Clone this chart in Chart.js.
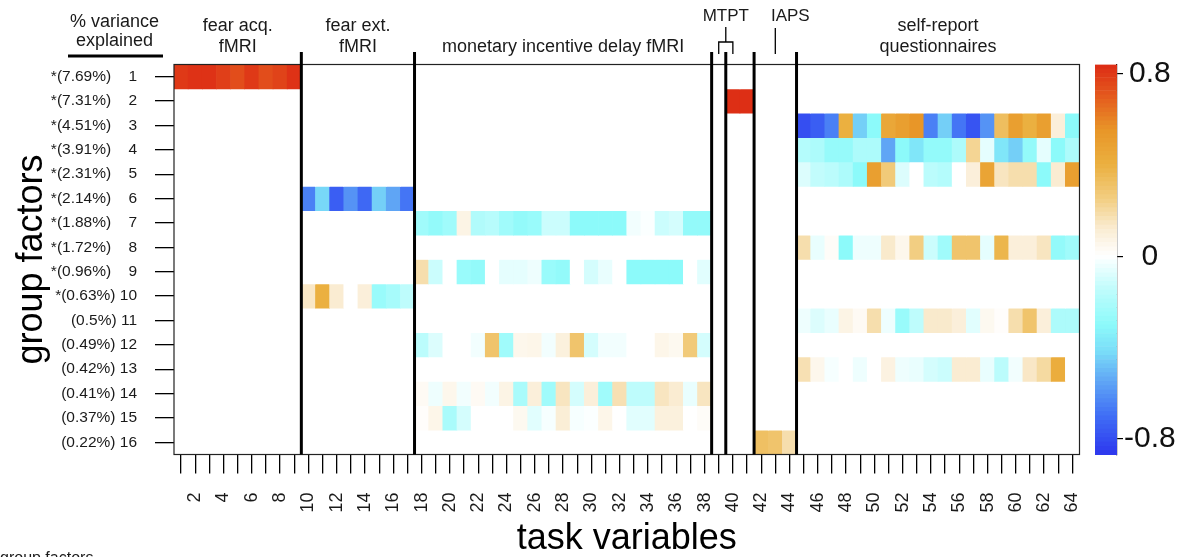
<!DOCTYPE html>
<html>
<head>
<meta charset="utf-8">
<script src="https://cdn.jsdelivr.net/npm/chart.js@4.4.1/dist/chart.umd.min.js"></script>
<style>
  html, body { margin: 0; padding: 0; background: #fff; }
  #wrap { position: relative; width: 1181px; height: 557px; overflow: hidden; }
  #main { position: absolute; left: 0; top: 0; }
  #bar { position: absolute; left: 1080px; top: 0; }
</style>
</head>
<body>
<div id="wrap">
  <canvas id="main" width="1181" height="557"></canvas>
  <canvas id="bar" width="101" height="557"></canvas>
</div>
<script>
// task variables (x) and group factors (y)
const taskVars = [1,2,3,4,5,6,7,8,9,10,11,12,13,14,15,16,17,18,19,20,21,22,23,24,25,26,27,28,29,30,31,32,
  33,34,35,36,37,38,39,40,41,42,43,44,45,46,47,48,49,50,51,52,53,54,55,56,57,58,59,60,61,62,63,64];
const factors = [1,2,3,4,5,6,7,8,9,10,11,12,13,14,15,16];
const varExplained = ['*(7.69%)','*(7.31%)','*(4.51%)','*(3.91%)','*(2.31%)','*(2.14%)','*(1.88%)','*(1.72%)',
  '*(0.96%)','*(0.63%)','(0.5%)','(0.49%)','(0.42%)','(0.41%)','(0.37%)','(0.22%)'];

// loadings per factor; blocks: fear acq (9) | fear ext (8) | MID (21) | MTPT (3) | IAPS (3) | self-report (20)
const f1 = [0.80,0.82,0.82,0.78,0.74,0.80,0.74,0.77,0.82,
  0,0,0,0,0,0,0,0,
  0,0,0,0,0,0,0,0,0,0,0,0,0,0,0,0,0,0,0,0,0,
  0,0,0, 0,0,0,
  0,0,0,0,0,0,0,0,0,0,0,0,0,0,0,0,0,0,0,0];
const f2 = [0,0,0,0,0,0,0,0,0,
  0,0,0,0,0,0,0,0,
  0,0,0,0,0,0,0,0,0,0,0,0,0,0,0,0,0,0,0,0,0,
  0,0.83,0.83, 0,0,0,
  0,0,0,0,0,0,0,0,0,0,0,0,0,0,0,0,0,0,0,0];
const f3 = [0,0,0,0,0,0,0,0,0,
  0,0,0,0,0,0,0,0,
  0,0,0,0,0,0,0,0,0,0,0,0,0,0,0,0,0,0,0,0,0,
  0,0,0, 0,0,0,
  -0.80,-0.75,-0.65,0.40,-0.45,-0.30,0.45,0.50,0.55,-0.65,-0.45,-0.68,-0.78,-0.60,0.33,0.50,0.40,0.50,0.10,-0.30];
const f4 = [0,0,0,0,0,0,0,0,0,
  0,0,0,0,0,0,0,0,
  0,0,0,0,0,0,0,0,0,0,0,0,0,0,0,0,0,0,0,0,0,
  0,0,0, 0,0,0,
  -0.18,-0.20,-0.27,-0.27,-0.20,-0.20,-0.55,-0.30,-0.38,-0.28,-0.28,-0.20,0.22,-0.06,-0.38,-0.45,-0.28,-0.06,-0.30,-0.20];
const f5 = [0,0,0,0,0,0,0,0,0,
  0,0,0,0,0,0,0,0,
  0,0,0,0,0,0,0,0,0,0,0,0,0,0,0,0,0,0,0,0,0,
  0,0,0, 0,0,0,
  -0.08,-0.14,-0.16,-0.20,-0.30,0.50,0.27,-0.08,0,-0.16,-0.18,0,0.10,0.47,0.15,0.18,0.18,-0.30,0.12,0.50];
const f6 = [0,0,0,0,0,0,0,0,0,
  -0.65,-0.43,-0.75,-0.60,-0.72,-0.45,-0.55,-0.68,
  0,0,0,0,0,0,0,0,0,0,0,0,0,0,0,0,0,0,0,0,0,
  0,0,0, 0,0,0,
  0,0,0,0,0,0,0,0,0,0,0,0,0,0,0,0,0,0,0,0];
const f7 = [0,0,0,0,0,0,0,0,0,
  0,0,0,0,0,0,0,0,
  -0.24,-0.28,-0.24,0.07,-0.19,-0.17,-0.24,-0.28,-0.26,-0.12,-0.12,-0.30,-0.30,-0.30,-0.30,-0.03,-0.01,-0.12,-0.10,-0.28,-0.28,
  0,0,0, 0,0,0,
  0,0,0,0,0,0,0,0,0,0,0,0,0,0,0,0,0,0,0,0];
const f8 = [0,0,0,0,0,0,0,0,0,
  0,0,0,0,0,0,0,0,
  0,0,0,0,0,0,0,0,0,0,0,0,0,0,0,0,0,0,0,0,0,
  0,0,0, 0,0,0,
  0.18,-0.05,0.02,-0.30,-0.04,-0.04,0.13,0.05,0.25,-0.12,-0.24,0.30,0.30,-0.06,0.37,0.10,0.10,0.15,-0.28,-0.24];
const f9 = [0,0,0,0,0,0,0,0,0,
  0,0,0,0,0,0,0,0,
  0.18,-0.12,0,-0.26,-0.28,0,-0.06,-0.06,-0.04,-0.26,-0.28,0,-0.10,-0.05,0,-0.30,-0.30,-0.30,-0.30,0,-0.07,
  0,0,0, 0,0,0,
  0,0,0,0,0,0,0,0,0,0,0,0,0,0,0,0,0,0,0,0];
const f10 = [0,0,0,0,0,0,0,0,0,
  0.14,0.40,0.12,0,0.10,-0.26,-0.22,-0.15,
  0,0,0,0,0,0,0,0,0,0,0,0,0,0,0,0,0,0,0,0,0,
  0,0,0, 0,0,0,
  0,0,0,0,0,0,0,0,0,0,0,0,0,0,0,0,0,0,0,0];
const f11 = [0,0,0,0,0,0,0,0,0,
  0,0,0,0,0,0,0,0,
  0,0,0,0,0,0,0,0,0,0,0,0,0,0,0,0,0,0,0,0,0,
  0,0,0, 0,0,0,
  -0.04,-0.08,-0.05,0.07,0.03,0.18,-0.04,-0.26,-0.15,0.13,0.13,0.10,-0.07,0.04,0.01,0.18,0.30,0.10,-0.20,-0.20];
const f12 = [0,0,0,0,0,0,0,0,0,
  0,0,0,0,0,0,0,0,
  -0.16,-0.08,0,0,-0.03,0.30,-0.24,0.05,0.06,-0.03,0.09,0.30,-0.10,-0.03,-0.03,0,0,0.06,0.04,0.27,-0.10,
  0,0,0, 0,0,0,
  0,0,0,0,0,0,0,0,0,0,0,0,0,0,0,0,0,0,0,0];
const f13 = [0,0,0,0,0,0,0,0,0,
  0,0,0,0,0,0,0,0,
  0,0,0,0,0,0,0,0,0,0,0,0,0,0,0,0,0,0,0,0,0,
  0,0,0, 0,0,0,
  0.17,0.05,-0.02,0,-0.04,0,0.08,-0.04,-0.05,-0.10,-0.12,0.12,0.12,-0.05,-0.16,-0.03,0.14,0.20,0.42,0];
const f14 = [0,0,0,0,0,0,0,0,0,
  0,0,0,0,0,0,0,0,
  0.03,-0.04,0.05,-0.03,0.03,-0.03,0.07,-0.21,0.10,-0.24,0.15,-0.10,0.10,-0.24,0.17,-0.15,-0.15,0.15,0.12,-0.05,0.15,
  0,0,0, 0,0,0,
  0,0,0,0,0,0,0,0,0,0,0,0,0,0,0,0,0,0,0,0];
const f15 = [0,0,0,0,0,0,0,0,0,
  0,0,0,0,0,0,0,0,
  0.01,0.06,-0.21,-0.10,0,0,0,0.04,-0.07,-0.02,0.11,-0.02,-0.01,0.06,0,-0.07,-0.07,0.09,0.09,0,0.02,
  0,0,0, 0,0,0,
  0,0,0,0,0,0,0,0,0,0,0,0,0,0,0,0,0,0,0,0];
const f16 = [0,0,0,0,0,0,0,0,0,
  0,0,0,0,0,0,0,0,
  0,0,0,0,0,0,0,0,0,0,0,0,0,0,0,0,0,0,0,0,0,
  0,0,0, 0.32,0.30,0.18,
  0,0,0,0,0,0,0,0,0,0,0,0,0,0,0,0,0,0,0,0];
const loadings = [f1,f2,f3,f4,f5,f6,f7,f8,f9,f10,f11,f12,f13,f14,f15,f16];

// task blocks: last task variable of each block, and the header text
const blockEnds = [9, 17, 38, 39, 41, 44];
const headers = [
  { from: 1, to: 9, lines: ['fear acq.', 'fMRI'] },
  { from: 10, to: 17, lines: ['fear ext.', 'fMRI'] },
  { from: 18, to: 38, lines: ['monetary incentive delay fMRI'] },
  { from: 45, to: 64, lines: ['self-report', 'questionnaires'] }
];
const colorbarTicks = [-0.8, 0, 0.8];

const FONT = "'Liberation Sans', Arial, Helvetica, sans-serif";
Chart.defaults.font.family = FONT;
Chart.defaults.color = '#1a1a1a';

// blue - cyan - white - tan - orange - red
const stops = [
  [-0.87, [45, 55, 238]],
  [-0.70, [64, 110, 245]],
  [-0.55, [95, 165, 245]],
  [-0.42, [122, 220, 248]],
  [-0.30, [140, 250, 250]],
  [-0.15, [190, 252, 252]],
  [0.00, [255, 255, 255]],
  [0.12, [250, 236, 210]],
  [0.25, [242, 206, 130]],
  [0.40, [235, 176, 64]],
  [0.55, [232, 150, 40]],
  [0.70, [228, 90, 30]],
  [0.85, [220, 40, 20]]
];
function colorFor(v) {
  v = Math.max(stops[0][0], Math.min(stops[stops.length - 1][0], v));
  for (let i = 1; i < stops.length; i++) {
    const [v1, c1] = stops[i];
    const [v0, c0] = stops[i - 1];
    if (v <= v1) {
      const t = (v - v0) / (v1 - v0);
      const c = c0.map((a, k) => Math.round(a + (c1[k] - a) * t));
      return `rgb(${c[0]},${c[1]},${c[2]})`;
    }
  }
}

function rowLabel(f) {
  const i = factors.indexOf(f);
  if (i < 0) return '';
  return varExplained[i] + (f < 10 ? '    ' : ' ') + f;
}

const decor = {
  id: 'decor',
  afterDraw(chart) {
    const { ctx, chartArea: a, scales: { x } } = chart;
    const colX = c => x.getPixelForValue(c - 1);
    const edgeX = c => (colX(c) + colX(c + 1)) / 2;
    ctx.save();

    // frame
    ctx.strokeStyle = '#222';
    ctx.lineWidth = 1.2;
    ctx.strokeRect(a.left, a.top, a.right - a.left, a.bottom - a.top);

    // block separators
    ctx.strokeStyle = '#000';
    ctx.lineWidth = 3;
    blockEnds.forEach(c => {
      ctx.beginPath();
      ctx.moveTo(edgeX(c), 52);
      ctx.lineTo(edgeX(c), a.bottom);
      ctx.stroke();
    });

    // block headers
    ctx.fillStyle = '#1a1a1a';
    ctx.textAlign = 'center';
    ctx.textBaseline = 'alphabetic';
    ctx.font = '18px ' + FONT;
    headers.forEach(h => {
      const cx = (colX(h.from) + colX(h.to)) / 2;
      const base = h.lines.length === 2 ? [31, 52] : [52];
      h.lines.forEach((t, i) => ctx.fillText(t, cx, base[i]));
    });

    ctx.fillText('% variance', 114.5, 27);
    ctx.fillText('explained', 114.5, 46);
    ctx.lineWidth = 3;
    ctx.beginPath();
    ctx.moveTo(68, 56);
    ctx.lineTo(163, 56);
    ctx.stroke();

    // MTPT bracket
    ctx.lineWidth = 1.3;
    const l = colX(39), r = colX(40), m = (l + r) / 2;
    ctx.beginPath();
    ctx.moveTo(m, 27); ctx.lineTo(m, 42);
    ctx.moveTo(l, 54); ctx.lineTo(l, 42); ctx.lineTo(r, 42); ctx.lineTo(r, 54);
    ctx.stroke();
    ctx.font = '17px ' + FONT;
    ctx.fillText('MTPT', m, 21);

    // IAPS pointer
    const ia = colX(43);
    ctx.beginPath();
    ctx.moveTo(ia, 28); ctx.lineTo(ia, 54);
    ctx.stroke();
    ctx.fillText('IAPS', ia + 15, 21);

    // clipped caption at the bottom
    ctx.textAlign = 'left';
    ctx.textBaseline = 'top';
    ctx.font = '16px ' + FONT;
    ctx.fillText('group factors', 0, 551);
    ctx.restore();
  }
};

const datasets = loadings.map((vals, r) => ({
  label: rowLabel(factors[r]),
  data: vals.map(() => [factors[r] - 0.5, factors[r] + 0.5]),
  backgroundColor: vals.map(colorFor),
  borderWidth: 0,
  barPercentage: 1,
  categoryPercentage: 1,
  grouped: false
}));

new Chart(document.getElementById('main'), {
  type: 'bar',
  data: { labels: taskVars.map(String), datasets },
  options: {
    responsive: false,
    animation: false,
    layout: { padding: { left: 0, top: 64.5, right: 101.5, bottom: 0 } },
    plugins: {
      legend: { display: false },
      tooltip: {
        callbacks: {
          label: c => `factor ${factors[c.datasetIndex]}: ${loadings[c.datasetIndex][c.dataIndex]}`
        }
      }
    },
    scales: {
      x: {
        type: 'category',
        offset: true,
        grid: { offset: false, drawOnChartArea: false, tickLength: 19, color: '#000', lineWidth: 1.3 },
        border: { display: false },
        ticks: {
          autoSkip: false, minRotation: 90, maxRotation: 90, padding: 19,
          font: { size: 18 }, color: '#1a1a1a',
          callback: (v, i) => (taskVars[i] % 2 === 0 ? String(taskVars[i]) : '')
        },
        title: { display: true, text: 'task variables', font: { size: 36, lineHeight: 1 }, color: '#000', padding: { top: 0, bottom: 0 } },
        afterFit: s => { s.height = 102.5; }
      },
      y: {
        type: 'linear',
        reverse: true,
        min: 0.5,
        max: 16.5,
        afterBuildTicks: s => { s.ticks = factors.map(v => ({ value: v })); },
        grid: { drawOnChartArea: false, tickLength: 19, color: '#000', lineWidth: 1.3 },
        border: { display: false },
        ticks: { autoSkip: false, padding: 18, font: { size: 15.5 }, color: '#1a1a1a', callback: v => rowLabel(v) },
        title: { display: true, text: 'group factors', font: { size: 36, lineHeight: 1 }, color: '#000', padding: { top: 14, bottom: 0 } },
        afterFit: s => { s.width = 174; }
      }
    }
  },
  plugins: [decor]
});

// colour key
const keyMin = -0.87, keyMax = 0.84, keySteps = 90;
const keyBands = Array.from({ length: keySteps }, (_, i) => {
  const lo = keyMin + (keyMax - keyMin) * i / keySteps;
  const hi = keyMin + (keyMax - keyMin) * (i + 1) / keySteps;
  return { lo, hi, mid: (lo + hi) / 2 };
});

new Chart(document.getElementById('bar'), {
  type: 'bar',
  data: {
    labels: ['key'],
    datasets: keyBands.map(b => ({
      data: [[b.lo, b.hi]],
      backgroundColor: colorFor(b.mid),
      borderWidth: 0,
      barPercentage: 1,
      categoryPercentage: 1,
      grouped: false
    }))
  },
  options: {
    responsive: false,
    animation: false,
    layout: { padding: { left: 15, top: 64.5, right: 0, bottom: 102 } },
    plugins: { legend: { display: false }, tooltip: { enabled: false } },
    scales: {
      x: { display: false },
      y: {
        position: 'right',
        min: keyMin,
        max: keyMax,
        afterBuildTicks: s => { s.ticks = colorbarTicks.map(v => ({ value: v })); },
        afterFit: s => { s.width = 64; },
        grid: { drawOnChartArea: false, tickLength: 6, color: '#000', lineWidth: 1.2 },
        border: { display: true, color: '#000', width: 1.2 },
        ticks: {
          font: { size: 30 }, color: '#111', padding: 1, crossAlign: 'center',
          callback: v => (v === 0 ? '0' : String(v))
        }
      }
    }
  }
});
</script>
</body>
</html>
